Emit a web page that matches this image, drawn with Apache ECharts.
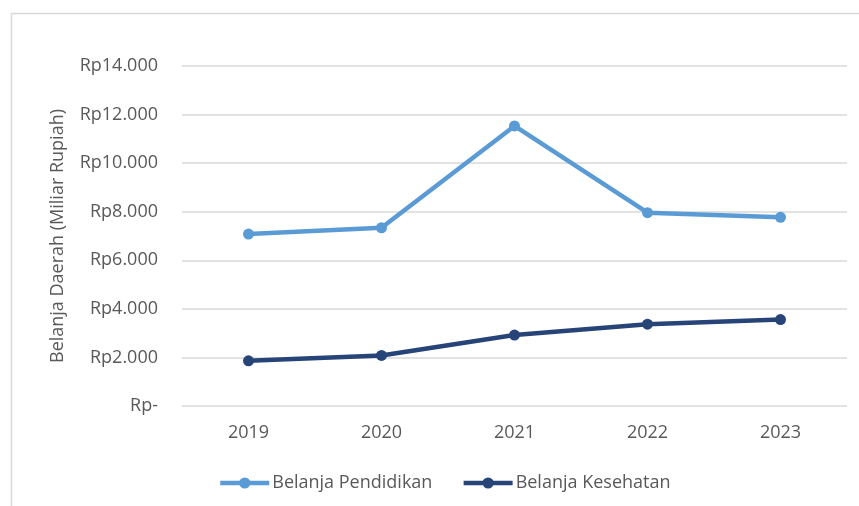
<!DOCTYPE html>
<html>
<head>
<meta charset="utf-8">
<script src="https://cdn.jsdelivr.net/npm/echarts@6/dist/echarts.min.js"></script>
<style>
  html, body { margin: 0; padding: 0; background: #fff; }
  #main { width: 859px; height: 506px; }
</style>
</head>
<body>
<div id="main"></div>
<script>
var years = ['2019', '2020', '2021', '2022', '2023'];
var pendidikan = [7080, 7340, 11530, 7960, 7770];
var kesehatan = [1860, 2080, 2920, 3370, 3560];
var yTicks = [0, 2000, 4000, 6000, 8000, 10000, 12000, 14000];
var yTickLabels = ['Rp-', 'Rp2.000', 'Rp4.000', 'Rp6.000', 'Rp8.000', 'Rp10.000', 'Rp12.000', 'Rp14.000'];

var chart = echarts.init(document.getElementById('main'));
var font = 'Open Sans';
var textColor = '#595959';

var option = {
    animation: false,
    textStyle: { fontFamily: font },
    graphic: [{
        type: 'rect',
        shape: { x: 11.5, y: 13.5, width: 900, height: 600 },
        style: { fill: 'none', stroke: '#d9d9d9', lineWidth: 1.5 },
        silent: true
    }],
    grid: { left: 182, right: 12, top: 66, bottom: 100 },
    legend: {
        left: 213,
        top: 469,
        itemWidth: 49,
        itemHeight: 14,
        itemGap: 29,
        lineStyle: { width: 4.5 },
        textStyle: { color: textColor, fontSize: 18, fontFamily: font, padding: [0, 0, 0, -2] },
        data: ['Belanja Pendidikan', 'Belanja Kesehatan']
    },
    xAxis: {
        type: 'category',
        data: years,
        boundaryGap: true,
        axisLine: { show: false },
        axisTick: { show: false },
        axisLabel: { color: textColor, fontSize: 18, margin: 18 }
    },
    yAxis: {
        type: 'value',
        min: 0,
        max: 14000,
        interval: 2000,
        name: 'Belanja Daerah (Miliar Rupiah)',
        nameLocation: 'middle',
        nameGap: 115,
        nameRotate: 90,
        nameTextStyle: { color: textColor, fontSize: 18 },
        axisLine: { show: false },
        axisTick: { show: false },
        splitLine: { lineStyle: { color: '#d9d9d9', width: 1.5 } },
        axisLabel: {
            color: textColor,
            fontSize: 18,
            margin: 24,
            formatter: function (v) {
                var i = yTicks.indexOf(v);
                return i >= 0 ? yTickLabels[i] : '';
            }
        }
    },
    series: [
        {
            name: 'Belanja Pendidikan',
            type: 'line',
            data: pendidikan,
            symbol: 'circle',
            symbolSize: 11,
            color: '#5b9bd5',
            lineStyle: { width: 4.5, color: '#5b9bd5' },
            itemStyle: { color: '#5b9bd5' }
        },
        {
            name: 'Belanja Kesehatan',
            type: 'line',
            data: kesehatan,
            symbol: 'circle',
            symbolSize: 11,
            color: '#264478',
            lineStyle: { width: 4.5, color: '#264478' },
            itemStyle: { color: '#264478' }
        }
    ]
};

chart.setOption(option);
</script>
</body>
</html>
